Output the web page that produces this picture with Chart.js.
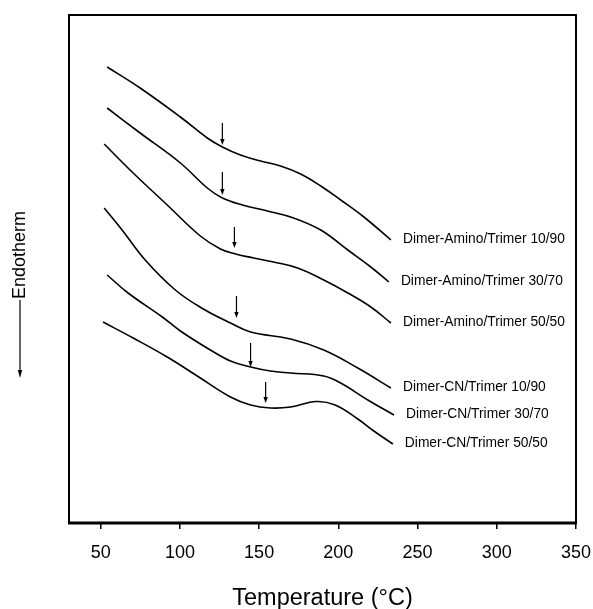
<!DOCTYPE html>
<html>
<head>
<meta charset="utf-8">
<script src="https://cdn.jsdelivr.net/npm/chart.js@4/dist/chart.umd.min.js"></script>
<style>
  html, body { margin: 0; padding: 0; background: #fff; }
  #wrap { width: 593px; height: 609px; }
</style>
</head>
<body>
<div id="wrap"><canvas id="dsc"></canvas></div>
<script>
// DSC traces, heat flow in arbitrary units (offset curves), temperature in °C
const seriesNames = [
  'Dimer-Amino/Trimer 10/90',
  'Dimer-Amino/Trimer 30/70',
  'Dimer-Amino/Trimer 50/50',
  'Dimer-CN/Trimer 10/90',
  'Dimer-CN/Trimer 30/70',
  'Dimer-CN/Trimer 50/50',
];

const tAmino1090 = [54.1, 74.9, 100.3, 117.3, 126.8, 138.2, 150.9, 163.5, 176.2, 188.9, 201.5, 216.1, 233.2];
const hAmino1090 = [45.6, 43.5, 40.6, 38.5, 37.6, 36.8, 36.2, 35.7, 34.9, 33.7, 32.3, 30.6, 28.3];

const tAmino3070 = [54.1, 74.9, 100.3, 117.3, 126.8, 139.5, 155.3, 171.8, 188.9, 206.0, 220.5, 231.9];
const hAmino3070 = [41.5, 39.0, 36.0, 33.5, 32.5, 31.8, 31.2, 30.5, 29.3, 27.3, 25.6, 24.1];

const tAmino5050 = [52.2, 70.5, 92.0, 112.9, 125.6, 135.1, 146.5, 159.1, 174.3, 190.8, 206.0, 220.5, 233.2];
const hAmino5050 = [37.9, 35.0, 31.8, 28.7, 27.4, 26.9, 26.5, 26.1, 25.5, 24.3, 23.0, 21.6, 20.0];

const tCN1090 = [52.2, 63.5, 78.1, 97.1, 114.8, 131.9, 144.6, 169.9, 190.8, 212.3, 233.2];
const hCN1090 = [31.5, 29.3, 26.3, 23.3, 21.4, 20.0, 19.1, 18.4, 17.3, 15.5, 13.5];

const tCN3070 = [54.1, 67.3, 88.9, 100.3, 119.2, 131.9, 144.6, 157.2, 169.9, 190.8, 201.5, 218.6, 235.1];
const hCN3070 = [24.8, 23.0, 20.6, 19.2, 17.3, 16.2, 15.6, 15.2, 15.0, 14.7, 14.0, 12.3, 10.8];

const tCN5050 = [51.5, 70.5, 92.0, 112.9, 131.9, 144.6, 157.2, 169.9, 186.0, 198.0, 212.3, 222.4, 234.4];
const hCN5050 = [20.1, 18.5, 16.6, 14.5, 12.6, 11.8, 11.5, 11.6, 12.15, 11.8, 10.4, 9.2, 7.9];

// Tg markers (arrows above each trace)
const tgTemps  = [126.8, 126.8, 134.4, 135.7, 144.6, 154.1];
const tgTop    = [40.0, 35.1, 29.6, 22.7, 18.0, 14.1];
const tgBottom = [37.8, 32.8, 27.5, 20.5, 15.6, 12.0];

const xTicks = [50, 100, 150, 200, 250, 300, 350];

const traces = [
  [tAmino1090, hAmino1090],
  [tAmino3070, hAmino3070],
  [tAmino5050, hAmino5050],
  [tCN1090, hCN1090],
  [tCN3070, hCN3070],
  [tCN5050, hCN5050],
];

const FONT = "'Liberation Sans', Arial, Helvetica, sans-serif";

const datasets = traces.map(([ts, hs], i) => ({
  label: seriesNames[i],
  data: ts.map((t, k) => ({ x: t, y: hs[k] })),
  borderColor: '#000',
  borderWidth: 1.6,
  pointRadius: 0,
  fill: false,
  tension: 0.4,
}));

// frame, arrows, curve labels and axis titles
const decorPlugin = {
  id: 'decor',
  afterDatasetsDraw(chart) {
    const { ctx, chartArea: a, scales: { x, y } } = chart;
    ctx.save();
    ctx.strokeStyle = '#000';
    ctx.fillStyle = '#000';

    // box
    ctx.lineWidth = 2;
    ctx.strokeRect(a.left, a.top, a.right - a.left, a.bottom - a.top);
    ctx.lineWidth = 3;
    ctx.beginPath();
    ctx.moveTo(a.left - 1, a.bottom);
    ctx.lineTo(a.right + 1, a.bottom);
    ctx.stroke();

    // Tg arrows
    ctx.lineWidth = 1.2;
    tgTemps.forEach((t, i) => {
      const px = x.getPixelForValue(t);
      const y0 = y.getPixelForValue(tgTop[i]);
      const y1 = y.getPixelForValue(tgBottom[i]);
      ctx.beginPath();
      ctx.moveTo(px, y0);
      ctx.lineTo(px, y1 - 5);
      ctx.stroke();
      ctx.beginPath();
      ctx.moveTo(px - 2.2, y1 - 6);
      ctx.lineTo(px + 2.2, y1 - 6);
      ctx.lineTo(px, y1);
      ctx.closePath();
      ctx.fill();
    });

    // curve labels at the right end of each trace
    ctx.font = '13.8px ' + FONT;
    ctx.textAlign = 'left';
    ctx.textBaseline = 'middle';
    traces.forEach(([ts, hs], i) => {
      const n = ts.length - 1;
      const px = x.getPixelForValue(ts[n]) + 12;
      const py = y.getPixelForValue(hs[n]) - 1;
      ctx.fillText(seriesNames[i], px, py);
    });

    // x title
    ctx.font = '23.5px ' + FONT;
    ctx.textAlign = 'center';
    ctx.textBaseline = 'alphabetic';
    const cx = (a.left + a.right) / 2;
    ctx.fillText('Temperature (\u00B0C)', cx, 605);

    // y title with downward arrow
    ctx.save();
    ctx.translate(25, 255);
    ctx.rotate(-Math.PI / 2);
    ctx.font = '18px ' + FONT;
    ctx.textAlign = 'center';
    ctx.fillText('Endotherm', 0, 0);
    ctx.restore();
    ctx.lineWidth = 1.2;
    ctx.beginPath();
    ctx.moveTo(20, 300);
    ctx.lineTo(20, 371);
    ctx.stroke();
    ctx.beginPath();
    ctx.moveTo(17.8, 370);
    ctx.lineTo(22.2, 370);
    ctx.lineTo(20, 378);
    ctx.closePath();
    ctx.fill();

    ctx.restore();
  },
};

new Chart(document.getElementById('dsc'), {
  type: 'line',
  data: { datasets },
  plugins: [decorPlugin],
  options: {
    responsive: true,
    maintainAspectRatio: false,
    animation: false,
    layout: { padding: { left: 69, right: 17, top: 15, bottom: 0 } },
    plugins: { legend: { display: false }, tooltip: { enabled: false } },
    scales: {
      x: {
        type: 'linear',
        min: 30,
        max: 350,
        afterFit(scale) {
          scale.height = 86;
          scale.paddingLeft = 0;
          scale.paddingRight = 0;
        },
        afterBuildTicks(scale) { scale.ticks = xTicks.map(v => ({ value: v })); },
        ticks: {
          includeBounds: false,
          color: '#000',
          padding: 13,
          maxRotation: 0,
          font: { size: 18, family: FONT },
        },
        grid: {
          drawOnChartArea: false,
          drawTicks: true,
          tickLength: 6,
          color: '#000',
          lineWidth: 1.5,
        },
        border: { display: false },
      },
      y: {
        display: false,
        min: 0,
        max: 50.8,
      },
    },
  },
});
</script>
</body>
</html>
